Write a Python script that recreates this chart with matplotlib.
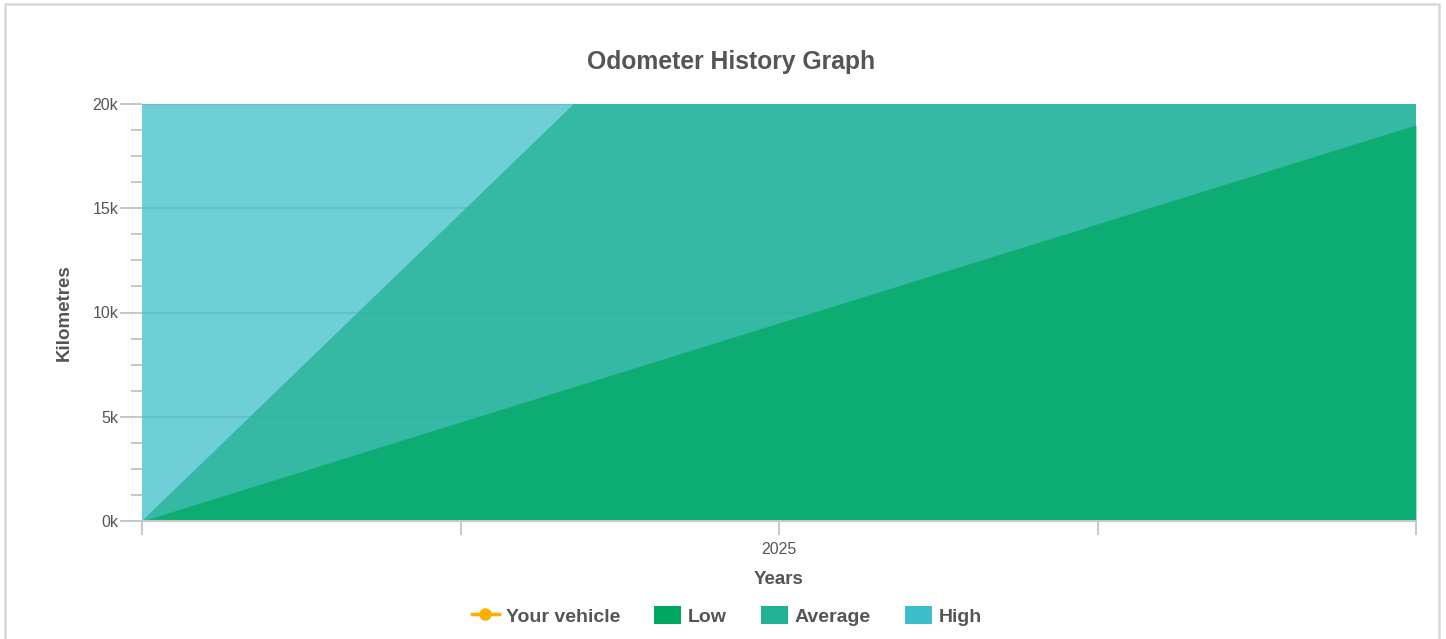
import matplotlib
matplotlib.use("Agg")
import matplotlib.pyplot as plt
from matplotlib.patches import Rectangle
from matplotlib.lines import Line2D
from matplotlib.ticker import MultipleLocator, FuncFormatter

plt.rcParams['font.family'] = ['Liberation Sans', 'DejaVu Sans']

# x positions along the time axis (4 intervals, only the middle one labelled)
x_pos = [0, 4]
tick_pos = [0, 1, 2, 3, 4]
tick_labels = ['', '', '2025', '', '']

# kilometres at start and end of the range
low_km = [0, 19000]
avg_km = [0, 59000]
high_km = [0, 1e9]

series_names = ['Your vehicle', 'Low', 'Average', 'High']
series_colors = ['#ffae00', '#00a862', '#21b294', '#3cbfc9']

fig = plt.figure(figsize=(14.46, 6.39), dpi=100)
ax = fig.add_axes([142 / 1446, 1 - 521 / 639, 1274 / 1446, 417 / 639])

ax.fill_between(x_pos, 0, high_km, color=series_colors[3], alpha=0.74, lw=0, zorder=2)
ax.fill_between(x_pos, 0, avg_km, color=series_colors[2], alpha=0.74, lw=0, zorder=3)
ax.fill_between(x_pos, 0, low_km, color=series_colors[1], alpha=0.74, lw=0, zorder=4)

ax.set_xlim(0, 4)
ax.set_ylim(0, 20000)
ax.set_xticks(tick_pos)
ax.set_xticklabels(tick_labels)
ax.yaxis.set_major_locator(MultipleLocator(5000))
ax.yaxis.set_minor_locator(MultipleLocator(1250))
ax.yaxis.set_major_formatter(FuncFormatter(lambda v, p: '%dk' % (v / 1000)))

ax.grid(axis='y', which='major', color='#c4c4c4', lw=1.2, zorder=1)
ax.set_axisbelow(True)
for s in ['left', 'right', 'top']:
    ax.spines[s].set_visible(False)
ax.spines['bottom'].set_color('#c8c8c8')
ax.spines['bottom'].set_linewidth(1.5)
ax.spines['bottom'].set_zorder(6)

ax.tick_params(axis='y', which='major', length=16, width=1.2, color='#bdbdbd',
               labelsize=11.5, labelcolor='#555555', pad=1)
ax.tick_params(axis='y', which='minor', length=8, width=1.2, color='#bdbdbd')
ax.tick_params(axis='x', length=10, width=1.2, color='#bdbdbd',
               labelsize=11.5, labelcolor='#555555', pad=5)

fig.text(731 / 1446, 1 - 62 / 639, 'Odometer History Graph', fontsize=17.8, fontweight='bold',
         color='#555555', ha='center', va='center')
ax.set_xlabel('Years', fontsize=13.5, fontweight='bold', color='#555555', labelpad=10)
ax.set_ylabel('Kilometres', fontsize=13.5, fontweight='bold', color='#555555', labelpad=14.5)

handles = [Line2D([0], [0], color=series_colors[0], marker='o', markersize=8, lw=2.5)]
for c in series_colors[1:]:
    handles.append(Rectangle((0, 0), 1, 1, facecolor=c))
leg = fig.legend(handles, series_names, loc='center', bbox_to_anchor=(727 / 1446, 1 - 616 / 639),
                 ncol=4, frameon=False, handlelength=1.4, handleheight=1.05, handletextpad=0.35,
                 columnspacing=1.75, prop={'weight': 'bold', 'size': 14})
for t in leg.get_texts():
    t.set_color('#555555')

# outer card border
fig.patches.append(Rectangle((4.5 / 1446, -0.1), 1434 / 1446, 1.1 - 4.5 / 639,
                             transform=fig.transFigure, fill=False,
                             edgecolor='#d8d8d8', lw=1.8))

fig.savefig('out.png', dpi=100)
